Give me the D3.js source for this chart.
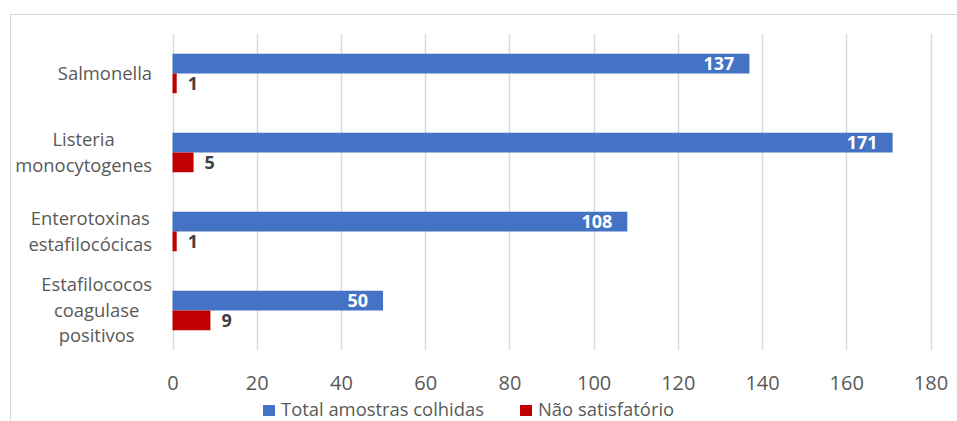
<!DOCTYPE html>
<html><head><meta charset="utf-8">
<script src="https://cdn.jsdelivr.net/npm/d3@7/dist/d3.min.js"></script>
<style>
body{margin:0;background:#fff;overflow:hidden;}
svg{display:block;}
svg text{font-family:"Open Sans","Noto Sans",sans-serif;}
</style></head>
<body>
<svg id="c" width="957" height="421"></svg>
<script>
const categories = [
  ["Salmonella"],
  ["Listeria","monocytogenes"],
  ["Enterotoxinas","estafilocócicas"],
  ["Estafilococos","coagulase","positivos"]
];
const seriesNames = ["Total amostras colhidas","Não satisfatório"];
const totalValues = [137,171,108,50];
const naoSatValues = [1,5,1,9];
const xTicks = [0,20,40,60,80,100,120,140,160,180];
const colors = ["#4472C4","#C00000"];

(function(){
const svg = d3.select("#c");
svg.append("rect").attr("x",10.5).attr("y",14.5).attr("width",1000).attr("height",1000)
  .attr("fill","#fff").attr("stroke","#d9d9d9").attr("stroke-width",1);

const pl=172.5, pr=930.5, pt=34, pb=350;
const x = d3.scaleLinear().domain([0,180]).range([pl,pr]);
const idx = categories.map((d,i)=>i);
const y = d3.scaleBand().domain(idx).range([pt,pb]).paddingInner(0.5).paddingOuter(0.25);
const ySub = d3.scaleBand().domain([0,1]).range([0,y.bandwidth()]);

svg.append("g").selectAll("line").data(xTicks).join("line")
  .attr("x1",d=>Math.round(x(d))+0.5).attr("x2",d=>Math.round(x(d))+0.5)
  .attr("y1",pt).attr("y2",pb).attr("stroke","#d9d9d9").attr("stroke-width",1.5);

const ax = svg.append("g").attr("transform",`translate(0,${pb})`)
  .call(d3.axisBottom(x).tickValues(xTicks).tickSize(0).tickPadding(26));
ax.select(".domain").remove();
ax.selectAll("text").attr("font-size",20).attr("fill","#595959").attr("font-family","Open Sans");

const series = [totalValues,naoSatValues];
series.forEach((vals,s)=>{
  const g = svg.append("g");
  g.selectAll("rect").data(vals).join("rect")
    .attr("x",x(0)).attr("y",(d,i)=>y(i)+ySub(s))
    .attr("width",d=>x(d)-x(0)).attr("height",ySub.bandwidth())
    .attr("fill",colors[s]);
  g.selectAll("text").data(vals).join("text")
    .attr("x",d=> s===0 ? x(d)-15 : x(d)+11)
    .attr("y",(d,i)=>y(i)+ySub(s)+ySub.bandwidth()/2)
    .attr("dy","0.36em")
    .attr("text-anchor", s===0 ? "end":"start")
    .attr("font-weight","bold").attr("font-size",18)
    .attr("fill", s===0 ? "#ffffff" : "#404040")
    .text(d=>d);
});

const lhs = [0,26,26,25.5];
const blockRight = 152;
svg.append("g").selectAll("text").data(categories).join("text")
  .attr("text-anchor","middle").attr("font-size",18.4).attr("fill","#595959")
  .each(function(lines,i){
    const cy = y(i)+y.bandwidth()/2;
    const t = d3.select(this);
    const spans = lines.map((ln,k)=>t.append("tspan")
        .attr("y",cy + (k-(lines.length-1)/2)*lhs[i]).attr("dy","0.35em").text(ln));
    const maxW = d3.max(spans, sp=>sp.node().getComputedTextLength());
    spans.forEach(sp=>sp.attr("x", blockRight - maxW/2));
  });

const legX = [263,520];
const leg = svg.append("g");
seriesNames.forEach((n,s)=>{
  leg.append("rect").attr("x",legX[s]).attr("y",405).attr("width",12).attr("height",11).attr("fill",colors[s]);
  leg.append("text").attr("x",legX[s]+18).attr("y",415.5)
    .attr("font-size",18.4).attr("fill","#595959").text(n);
});
})();
</script>
</body></html>
